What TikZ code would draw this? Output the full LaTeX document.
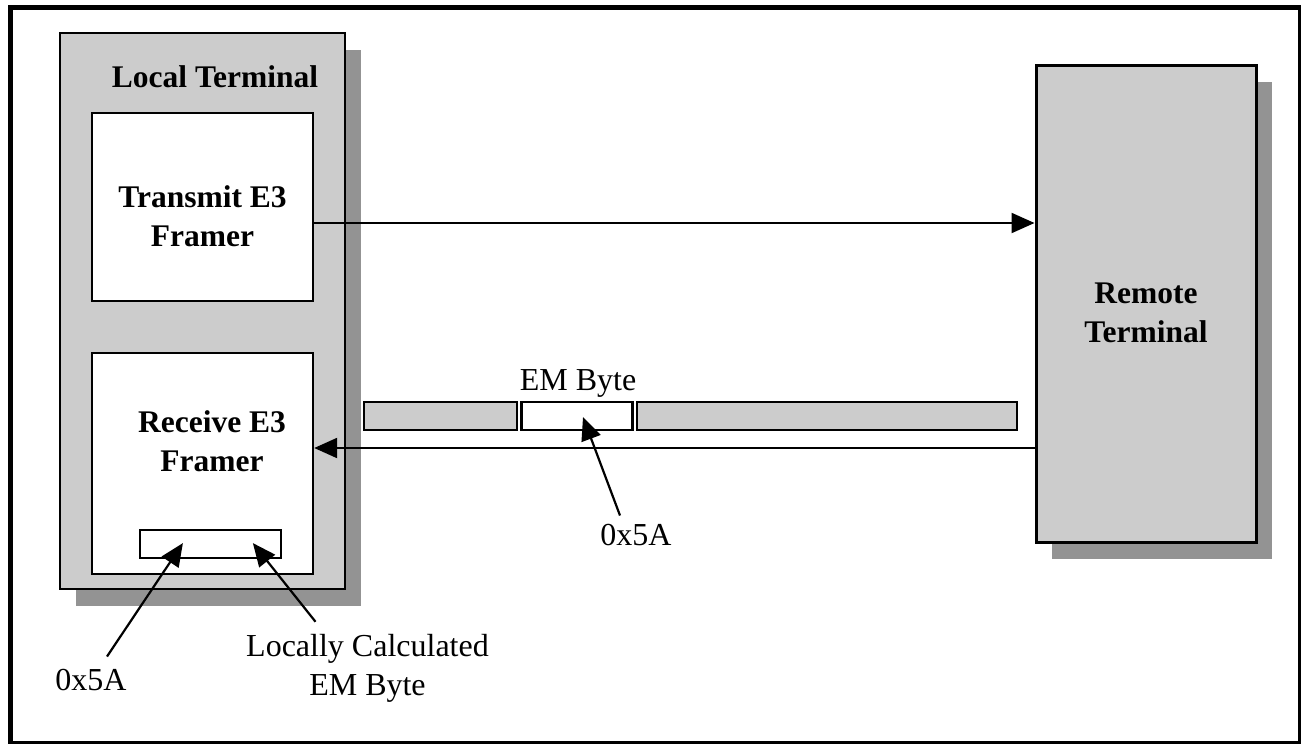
\documentclass[tikz,border=0pt]{standalone}
\usepackage{fontspec}
\setmainfont{Liberation Serif}
\usetikzlibrary{arrows.meta,shadows,calc}
\definecolor{boxgray}{RGB}{204,204,204}
\definecolor{shadowgray}{RGB}{147,147,147}
\begin{document}
\begin{tikzpicture}[x=1pt,y=1pt,
  bigbox/.style={draw=black, line width=2.4pt, fill=boxgray, inner sep=0pt,
    drop shadow={shadow xshift=16pt, shadow yshift=-17pt, opacity=1, fill=shadowgray}},
  whitebox/.style={draw=black, line width=2.4pt, fill=white, inner sep=0pt},
  barbox/.style={draw=black, line width=2.2pt, fill=boxgray, inner sep=0pt, minimum height=28pt},
  lbl/.style={font=\fontsize{32pt}{39pt}\selectfont, align=center, inner sep=0pt},
  blbl/.style={font=\fontsize{31.5pt}{39pt}\selectfont\bfseries, align=center, inner sep=0pt},
  arr/.style={line width=2.2pt, -{Triangle[length=23pt,width=20pt]}}
]
\useasboundingbox (0,0) rectangle (1301,-744);
\fill[white] (0,0) rectangle (1301,-744);
\draw[line width=5pt] (10.5,-7) rectangle (1300.5,-743);

% Local terminal
\node[bigbox, minimum width=285pt, minimum height=556pt] (lt) at (202.5,-311) {};
\node[blbl, anchor=base] (ltl) at (215,-87) {Local Terminal};
\node[whitebox, minimum width=221pt, minimum height=188pt] (tx) at (202.5,-207) {};
\node[blbl] (txl) at (202.5,-216) {Transmit E3\\Framer};
\node[whitebox, minimum width=221pt, minimum height=221pt] (rx) at (202.5,-463.5) {};
\node[blbl] (rxl) at (212,-441) {Receive E3\\Framer};
\node[whitebox, line width=2.2pt, minimum width=141pt, minimum height=28pt] (sr) at (210.5,-544) {};

% Remote terminal
\node[bigbox, line width=3pt, minimum width=220pt, minimum height=477pt] (rt) at (1146,-303.5) {};
\node[blbl] (rtl) at (1146,-312.5) {Remote\\Terminal};

% EM byte bar
\node[barbox, minimum width=153pt] (b1) at (440.5,-416) {};
\node[barbox, fill=white, minimum width=111pt] (b2) at (577,-416) {};
\node[barbox, minimum width=380pt] (b3) at (827,-416) {};
\node[lbl, anchor=base] (eml) at (578,-390) {EM Byte};

% connectors
\draw[arr] ([yshift=-16pt]tx.east) -- ([yshift=-16pt]tx.east -| rt.west);
\draw[arr] ([yshift=15.5pt]rx.east -| rt.west) -- ([yshift=15.5pt]rx.east);

% labels and pointers
\node[lbl, anchor=base] (v1) at (91,-690) {0x5A};
\node[lbl] (lc) at (367.5,-668) {Locally Calculated\\EM Byte};
\node[lbl, anchor=base] (v2) at (636,-545) {0x5A};

\coordinate (s1) at ([xshift=16pt,yshift=12pt]v1.north);
\coordinate (t1) at ([xshift=44pt,yshift=16pt]sr.south west);
\coordinate (s2) at ([xshift=-52pt,yshift=12pt]lc.north);
\coordinate (t2) at ([xshift=114pt,yshift=16pt]sr.south west);
\coordinate (s3) at ([xshift=-16pt,yshift=8pt]v2.north);
\coordinate (t3) at ([xshift=6pt,yshift=-1pt]b2.center);
\draw[arr] (s1) -- (t1);
\draw[arr] (s2) -- (t2);
\draw[arr] (s3) -- (t3);
\end{tikzpicture}
\end{document}
